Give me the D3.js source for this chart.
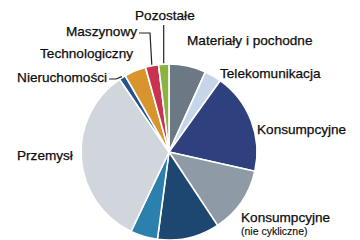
<!DOCTYPE html>
<html>
<head>
<meta charset="utf-8">
<script src="https://cdn.jsdelivr.net/npm/d3@7"></script>
<style>
  html, body { margin: 0; padding: 0; background: #fff; }
  svg { display: block; font-family: "Liberation Sans", Arial, sans-serif; }
</style>
</head>
<body>
<div class="container"></div>
<script>
// sektory, zgodnie z ruchem wskazowek zegara od godziny 12
var sectors = ['Materiały i pochodne', 'Telekomunikacja', 'Konsumpcyjne', 'Konsumpcyjne (nie cykliczne)',
  'Energia', 'Finanse', 'Przemysł', 'Nieruchomości', 'Technologiczny', 'Maszynowy', 'Pozostałe'];
var weights = [6.8, 3.1, 18.6, 12.2, 11.4, 5.0, 33.4, 1.2, 4.0, 2.4, 1.9];
var colors = ['#6d7885', '#c6d6e8', '#2f407f', '#8f9aa7', '#1d4670', '#2b80ad',
  '#d1d6dd', '#26548e', '#d8952e', '#c9334f', '#8ab33f'];

var width = 360, height = 240;
var cx = 169, cy = 152, radius = 88;

var svg = d3.select('.container').append('svg')
  .attr('width', width)
  .attr('height', height);

var data = sectors.map(function(s, i) { return { name: s, value: weights[i] }; });

var pie = d3.pie()
  .sort(null)
  .value(function(d) { return d.value; });

var arc = d3.arc()
  .innerRadius(0)
  .outerRadius(radius);

var arcs = pie(data);

var g = svg.append('g')
  .attr('transform', 'translate(' + cx + ',' + cy + ')');

g.selectAll('path')
  .data(arcs)
  .enter().append('path')
  .attr('d', arc)
  .attr('fill', function(d, i) { return colors[i]; })
  .attr('stroke', '#fff')
  .attr('stroke-width', 1.6)
  .attr('stroke-linejoin', 'round');

// punkt na obwodzie w polowie sektora
function edge(name, k) {
  var a = arcs[sectors.indexOf(name)];
  var m = (a.startAngle + a.endAngle) / 2;
  var r = radius * (k || 1);
  return [cx + Math.sin(m) * r, cy - Math.cos(m) * r];
}

// etykiety
var labels = [
  { t: 'Pozostałe', x: 135, y: 20, a: 'start' },
  { t: 'Maszynowy', x: 137, y: 36, a: 'end' },
  { t: 'Technologiczny', x: 133, y: 58, a: 'end' },
  { t: 'Nieruchomości', x: 107, y: 82, a: 'end' },
  { t: 'Materiały i pochodne', x: 187, y: 45, a: 'start' },
  { t: 'Telekomunikacja', x: 220, y: 78, a: 'start' },
  { t: 'Konsumpcyjne', x: 257, y: 134, a: 'start' },
  { t: 'Konsumpcyjne', x: 241, y: 222, a: 'start' },
  { t: 'Przemysł', x: 17, y: 160, a: 'start' }
];

svg.selectAll('text.lbl')
  .data(labels)
  .enter().append('text')
  .attr('class', 'lbl')
  .attr('x', function(d) { return d.x; })
  .attr('y', function(d) { return d.y; })
  .attr('text-anchor', function(d) { return d.a; })
  .attr('font-size', 13.6)
  .attr('fill', '#0d0d0d')
  .attr('stroke', '#0d0d0d')
  .attr('stroke-width', 0.25)
  .text(function(d) { return d.t; });

svg.append('text')
  .attr('x', 241)
  .attr('y', 235)
  .attr('font-size', 10.5)
  .attr('fill', '#0d0d0d')
  .attr('stroke', '#0d0d0d')
  .attr('stroke-width', 0.15)
  .text('(nie cykliczne)');

// linie odniesienia
var line = d3.line();
var p1 = edge('Pozostałe', 1.01);
var p2 = edge('Maszynowy', 1.01);
var p3 = edge('Nieruchomości', 1.01);

var leaders = [
  [[p1[0], 25], p1],
  [[139, 33], [150, 33], p2],
  [[109, 79], [116, 79], p3]
];

svg.selectAll('path.leader')
  .data(leaders)
  .enter().append('path')
  .attr('class', 'leader')
  .attr('d', line)
  .attr('fill', 'none')
  .attr('stroke', '#222')
  .attr('stroke-width', 1.2);
</script>
</body>
</html>
